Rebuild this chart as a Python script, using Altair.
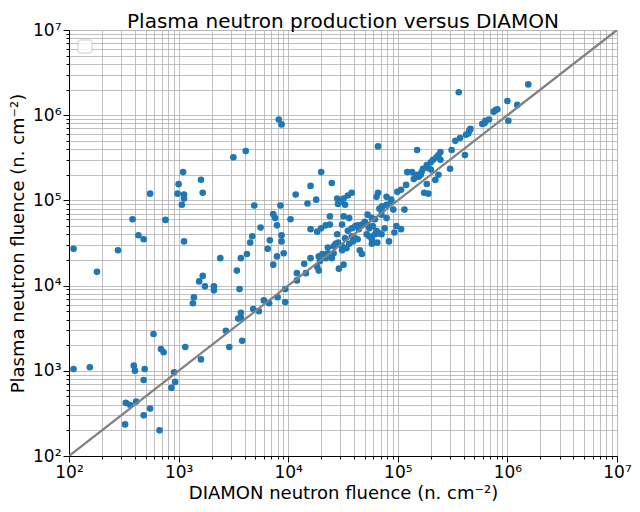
import altair as alt
import pandas as pd

# DIAMON neutron fluence (x) and plasma neutron fluence (y)
diamon = [
    1.1e2, 1.1e2, 1.55e2, 1.8e2, 2.8e2, 3.8e2, 4.3e2, 4.8e2, 5.5e2, 7.6e2,
    1.1e3, 1.6e3, 1.0e3, 9.8e2, 1.12e3, 1.12e3, 1.66e3, 1.07e3, 1.12e3, 3.16e3,
    4.1e3, 4.9e3, 4.7e3, 4.5e3, 2.4e3, 3.7e3, 4.2e3, 3.4e3, 1.66e3, 1.54e3,
    1.74e3, 2.1e3, 2.1e3, 3.6e3, 1.38e3, 1.35e3, 4.8e3, 3.7e3, 3.5e3, 3.7e3,
    5.9e2, 3.9e2, 4.0e2, 4.9e2, 4.8e2, 6.9e2, 7.3e2, 1.15e3, 1.6e3, 9.1e2,
    9.3e2, 8.6e2, 3.3e2, 3.6e2, 4.1e2, 5.5e2, 4.8e2, 3.25e2, 6.7e2, 2.7e3,
    2.9e3, 3.8e3,
    8.2e3, 8.7e3, 6.6e4, 1.5e5, 2.0e4, 2.5e4, 1.6e4, 1.17e4, 1.8e4, 1.5e4,
    8.5e3, 2.8e4, 3.0e4, 3.2e4, 3.5e4, 3.8e4, 2.85e4, 3.3e4, 6.6e4, 6.4e4,
    7.9e4, 8.7e4, 9.9e4, 1.07e5, 1.19e5, 1.22e5, 1.35e5, 1.46e5, 1.62e5, 1.7e5,
    1.84e5, 2.0e5, 2.1e5, 1.84e5, 1.74e5, 1.9e5, 1.15e5, 7.1e4,
    7.3e3, 7.6e3, 1.05e4, 2.4e4, 3.2e4, 3.6e4, 5.6e3, 7.9e3, 8.7e3, 6.8e3,
    8.7e3, 6.5e3, 9.1e3, 7.9e3, 7.3e3, 1.2e4, 1.45e4, 1.2e4, 9.4e3, 6.0e3,
    8.0e3, 6.7e3, 9.4e3, 5.4e3,
    1.6e4, 1.84e4, 2.0e4, 2.2e4, 2.4e4, 3.1e4, 2.8e4, 2.7e4, 2.85e4, 3.1e4,
    3.1e4, 2.6e4, 1.9e4, 2.05e4, 2.3e4, 1.95e4, 2.2e4, 2.5e4, 1.9e4, 1.84e4,
    3.2e4, 2.9e4, 3.5e4, 3.8e4, 4.1e4, 4.3e4, 4.7e4, 3.8e4, 4.1e4, 4.3e4,
    3.9e4, 4.5e4, 4.7e4, 3.4e4, 3.6e4, 5.3e4, 5.8e4, 6.2e4, 7.1e4, 6.8e4,
    7.2e4, 7.9e4, 5.2e4, 5.5e4, 5.9e4, 6.4e4, 5.2e4, 5.5e4, 5.8e4, 6.2e4,
    6.8e4, 7.1e4, 5.8e4, 7.9e4, 7.6e4, 9.3e4, 1.07e5, 9.1e4, 8.7e4,
    1.55e6, 3.6e5, 1.0e6, 1.23e6, 1.02e6, 7.5e5, 7.8e5, 8.1e5, 6.8e5, 5.9e5,
    6.2e5, 6.3e5, 4.6e5, 4.5e5, 4.4e5, 4.2e5, 3.7e5, 3.35e5, 3.1e5, 4.1e5,
    2.45e5, 2.35e5, 2.25e5, 2.45e5, 1.9e5, 2.0e5, 3.0e5, 1.65e5, 1.55e5, 1.5e5,
    1.4e5, 2.35e5, 2.2e5,
    9.7e4, 8.3e4, 6.5e4, 1.6e4, 2.6e4, 3.3e4, 4.4e4, 5.0e4, 2.3e4, 1.4e4,
]
plasma = [
    2.7e4, 1.05e3, 1.1e3, 1.45e4, 2.6e4, 6.0e4, 3.9e4, 3.5e4, 1.2e5, 5.9e4,
    2.15e5, 1.75e5, 1.55e5, 1.2e5, 1.17e5, 1.05e5, 1.23e5, 8.9e4, 3.3e4, 3.2e5,
    3.8e5, 8.7e4, 3.8e4, 3.2e4, 2.1e4, 2.1e4, 2.35e4, 1.5e4, 1.3e4, 1.12e4,
    9.8e3, 9.8e3, 8.8e3, 9.1e3, 7.3e3, 6.2e3, 5.3e3, 4.8e3, 4.1e3, 4.2e3,
    2.7e3, 1.15e3, 1.0e3, 1.05e3, 7.8e2, 1.8e3, 1.65e3, 1.9e3, 1.36e3, 9.6e2,
    7.4e2, 6.3e2, 4.2e2, 4.0e2, 4.35e2, 3.6e2, 3.0e2, 2.35e2, 2.0e2, 2.95e3,
    1.9e3, 2.25e3,
    8.9e5, 7.8e5, 4.3e5, 3.9e5, 2.15e5, 1.6e5, 1.48e5, 1.17e5, 1.02e5, 9.2e4,
    8.7e4, 1.05e5, 9.7e4, 1.05e5, 1.14e5, 1.23e5, 9.1e4, 8.9e4, 1.23e5, 1.1e5,
    1.1e5, 1.02e5, 1.26e5, 1.33e5, 1.52e5, 2.15e5, 2.15e5, 1.9e5, 2.0e5, 2.35e5,
    2.6e5, 2.8e5, 3.0e5, 1.56e5, 1.23e5, 1.2e5, 7.8e4, 8.0e4,
    6.9e4, 6.2e4, 6.0e4, 6.5e4, 6.5e4, 6.2e4, 4.8e4, 5.1e4, 3.9e4, 3.4e4,
    3.3e4, 2.7e4, 2.4e4, 2.2e4, 1.76e4, 1.4e4, 1.4e4, 1.15e4, 9.1e3, 6.7e3,
    7.3e3, 6.2e3, 6.4e3, 5.0e3,
    4.6e4, 4.3e4, 4.7e4, 5.1e4, 5.2e4, 5.2e4, 4.0e4, 3.1e4, 3.2e4, 2.9e4,
    2.6e4, 2.4e4, 2.2e4, 2.35e4, 2.4e4, 1.95e4, 2.1e4, 2.1e4, 1.5e4, 1.66e4,
    1.76e4, 1.58e4, 4.4e4, 4.7e4, 5.0e4, 5.1e4, 5.2e4, 3.8e4, 3.6e4, 3.5e4,
    3.3e4, 2.6e4, 2.35e4, 2.75e4, 3.1e4, 6.8e4, 6.2e4, 6.0e4, 6.8e4, 8.0e4,
    8.5e4, 8.9e4, 5.2e4, 4.7e4, 5.0e4, 4.4e4, 4.0e4, 3.8e4, 3.5e4, 4.0e4,
    4.1e4, 4.0e4, 3.1e4, 6.2e4, 4.7e4, 4.2e4, 4.6e4, 7.8e4, 9.7e4,
    2.3e6, 1.86e6, 1.47e6, 1.32e6, 8.6e5, 1.1e6, 1.15e6, 1.17e6, 8.9e5, 7.9e5,
    8.1e5, 8.6e5, 6.9e5, 6.6e5, 6.1e5, 5.9e5, 5.4e5, 5.0e5, 3.9e5, 3.4e5,
    3.7e5, 3.4e5, 3.2e5, 3.0e5, 2.4e5, 2.3e5, 2.35e5, 2.15e5, 1.9e5, 2.0e5,
    1.78e5, 2.0e5, 1.74e5,
    5.0e4, 3.3e4, 3.2e4, 2.1e4, 2.9e4, 3.6e4, 4.6e4, 5.6e4, 2.8e4, 1.8e4,
]

# y = x reference line
line_vals = [1e2, 1e7]

# decade ticks and minor ticks (2..9 within each decade)
decades = [2, 3, 4, 5, 6]
mults = [1, 2, 3, 4, 5, 6, 7, 8, 9]
tick_vals = [m * 10 ** d for d in decades for m in mults] + [1e7]

title_text = ["Plasma neutron production versus DIAMON"]

df = pd.DataFrame({"x": diamon, "y": plasma})
line_df = pd.DataFrame({"x": line_vals, "y": line_vals})

W, H = 548, 426
FONT = "DejaVu Sans"
major = "abs(log(datum.value)/LN10 - round(log(datum.value)/LN10)) < 0.01"
sup = "['\u2070','\u00b9','\u00b2','\u00b3','\u2074','\u2075','\u2076','\u2077'][round(log(datum.value)/LN10)]"
label_expr = f"({major}) ? '10' + {sup} : ''"
tick_size = {"condition": {"test": major, "value": 6}, "value": 3}

common_axis = dict(
    values=tick_vals,
    labelExpr=label_expr,
    labelOverlap=False,
    labelFlush=False,
    labelFont=FONT,
    labelFontSize=17,
    labelColor="black",
    labelPadding=2,
    tickSize=tick_size,
    tickColor="black",
    tickWidth=1,
    domainColor="black",
    domainWidth=1,
    grid=True,
    gridColor="#b0b0b0",
    gridWidth=0.8,
    titleFont=FONT,
    titleFontSize=18,
    titleFontWeight="normal",
    titleColor="black",
    titleBaseline="alphabetic",
)

x_axis = alt.Axis(
    title="DIAMON neutron fluence (n. cm\u207b\u00b2)",
    titleY=42,
    **common_axis,
)
y_axis = alt.Axis(
    title="Plasma neutron fluence (n. cm\u207b\u00b2)",
    titleX=-46,
    titleY=H / 2,
    titleAngle=270,
    titleAlign="center",
    **common_axis,
)

x_scale = alt.Scale(type="log", domain=[1e2, 1e7], nice=False)
y_scale = alt.Scale(type="log", domain=[1e2, 1e7], nice=False)

x_enc = alt.X("x:Q", scale=x_scale, axis=x_axis)
y_enc = alt.Y("y:Q", scale=y_scale, axis=y_axis)

points = alt.Chart(df).mark_circle(
    size=44, color="#1f77b4", opacity=1
).encode(x=x_enc, y=y_enc)

line = alt.Chart(line_df).mark_line(
    color="#808080", strokeWidth=2.2, clip=True
).encode(x=x_enc, y=y_enc)

legend_box = alt.Chart(pd.DataFrame({"a": [0]})).mark_rect(
    fill="white", fillOpacity=0.8, stroke="#cccccc", strokeWidth=1, cornerRadius=2
).encode(
    x=alt.value(9), x2=alt.value(23), y=alt.value(10), y2=alt.value(23)
)

title = alt.Chart(pd.DataFrame({"t": title_text})).mark_text(
    font=FONT, fontSize=20, color="black", align="center", baseline="alphabetic"
).encode(text="t:N", x=alt.value(W / 2), y=alt.value(-2))

chart = alt.layer(points, line, legend_box, title).properties(
    width=W,
    height=H,
    autosize="none",
    padding={"left": 61, "top": 22, "right": 15, "bottom": 45},
).configure_view(
    stroke="black", strokeWidth=1
).configure(background="white")

chart.save("out.html", embed_options={"renderer": "svg", "actions": False})
